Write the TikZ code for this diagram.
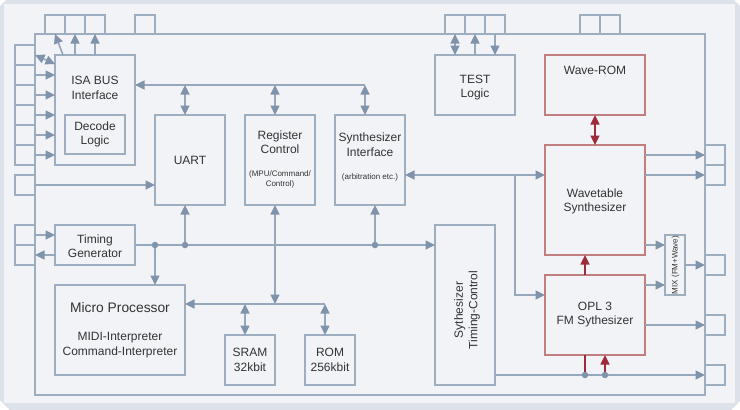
\documentclass[tikz,border=0pt]{standalone}
\usepackage{fontspec}
\setmainfont{Liberation Sans}
\usetikzlibrary{arrows.meta}
\definecolor{outerc}{HTML}{DDE2EA}
\definecolor{panelc}{HTML}{F1F3F7}
\definecolor{boxc}{HTML}{9DAEC1}
\definecolor{linec}{HTML}{96A8BB}
\definecolor{tipc}{HTML}{7F93AA}
\definecolor{redc}{HTML}{C07E7E}
\definecolor{redtip}{HTML}{9E2B3B}
\definecolor{txtc}{HTML}{333333}
\begin{document}
\begin{tikzpicture}[x=1pt,y=-1pt,
  box/.style={draw=boxc,line width=1.6pt,inner sep=0pt,outer sep=0pt,text=txtc,align=center,font=\fontsize{12}{14.5}\selectfont},
  redbox/.style={box,draw=redc},
  pin/.style={draw=boxc,line width=1.6pt,inner sep=0pt,outer sep=0pt,minimum width=20pt,minimum height=20pt},
  tpin/.style={pin,minimum height=19pt},
  lbl/.style={text=txtc,inner sep=0pt,align=center,font=\fontsize{12}{14.5}\selectfont},
  small/.style={lbl,font=\fontsize{8}{9.5}\selectfont},
  con/.style={draw=linec,line width=1.6pt},
  arr/.style={con,-{Triangle[length=9.5pt,width=9pt,color=tipc]}},
  dbl/.style={con,{Triangle[length=9.5pt,width=9pt,color=tipc]}-{Triangle[length=9.5pt,width=9pt,color=tipc]}},
  rline/.style={draw=redtip,line width=1.6pt},
  rarr/.style={rline,-{Triangle[length=9.5pt,width=9pt,color=redtip]}},
  rdbl/.style={rline,{Triangle[length=9.5pt,width=9pt,color=redtip]}-{Triangle[length=9.5pt,width=9pt,color=redtip]}},
  dot/.style={circle,fill=tipc,inner sep=0pt,minimum size=6.5pt}]
\useasboundingbox (0,0) rectangle (740,410);
% background panel
\fill[white] (0,0) rectangle (740,410);
\fill[outerc] (0,6) -- (6,0) -- (734,0) -- (740,6) -- (740,401) -- (731,410) -- (10,410) -- (0,400) -- cycle;
\fill[panelc] (4,4) rectangle (735,403);
% chip outline
\node[box,minimum width=670pt,minimum height=361pt] (chip) at (370,214.5) {};
% top pins
\node[tpin] (pT1) at (55,24.5) {};
\node[tpin] (pT2) at (75,24.5) {};
\node[tpin] (pT3) at (95,24.5) {};
\node[tpin] (pT4) at (145,24.5) {};
\node[tpin] (pT5) at (455,24.5) {};
\node[tpin] (pT6) at (475,24.5) {};
\node[tpin] (pT7) at (495,24.5) {};
\node[tpin] (pT8) at (590,24.5) {};
\node[tpin] (pT9) at (610,24.5) {};
% left pins
\foreach \i/\y in {1/55,2/75,3/95,4/115,5/135,6/155,7/185,8/235,9/255}
  \node[pin] (pL\i) at (25,\y) {};
% right pins
\foreach \i/\y in {1/155,2/175,3/265,4/325,5/375}
  \node[pin] (pR\i) at (715,\y) {};
% blocks
\node[box,minimum width=80pt,minimum height=110pt] (isa) at (95,110) {};
\node[lbl] (isaT) at (95,88) {ISA BUS\\Interface};
\node[box,minimum width=60pt,minimum height=39pt] (decode) at (95,134.5) {Decode\\Logic};
\node[box,minimum width=70pt,minimum height=90pt] (uart) at (190,160) {UART};
\node[box,minimum width=70pt,minimum height=90pt] (reg) at (280,160) {};
\node[lbl] (regT) at (280,142) {Register\\Control};
\node[small] (regS) at (280,179.5) {(MPU/Command/\\Control)};
\node[box,minimum width=70pt,minimum height=90pt] (synif) at (370,160) {};
\node[lbl] (synifT) at (370,144.5) {Synthesizer\\Interface};
\node[small] (synifS) at (370,177) {(arbitration etc.)};
\node[box,minimum width=80pt,minimum height=60pt] (test) at (475,85) {};
\node[lbl] (testT) at (475,87.5) {TEST\\Logic};
\node[redbox,minimum width=100pt,minimum height=60pt] (waverom) at (595,85) {};
\node[lbl] (waveromT) at (595,70) {Wave-ROM};
\node[redbox,minimum width=100pt,minimum height=110pt] (wavetable) at (595,200) {};
\node[lbl] (wavetableT) at (595,201.5) {Wavetable\\Synthesizer};
\node[redbox,minimum width=100pt,minimum height=80pt] (opl) at (595,315) {};
\node[lbl] (oplT) at (595,314.5) {OPL 3\\FM Sythesizer};
\node[box,minimum width=20pt,minimum height=60pt] (mix) at (675,265) {};
\node[lbl,rotate=90,font=\fontsize{8}{9}\selectfont] (mixT) at (675.5,265) {MIX (FM+Wave)};
\node[box,minimum width=80pt,minimum height=40pt] (timing) at (95,245) {};
\node[lbl] (timingT) at (95,246) {Timing\\Generator};
\node[box,minimum width=60pt,minimum height=160pt] (stc) at (465,305) {};
\node[lbl,rotate=90] (stcT) at (467,310) {Sythesizer\\Timing-Control};
\node[box,minimum width=130pt,minimum height=90pt] (mpu) at (120,330) {};
\node[lbl,font=\fontsize{13.8}{16}\selectfont] (mpuT) at (120,308) {Micro Processor};
\node[lbl] (mpuS) at (120,345) {MIDI-Interpreter\\Command-Interpreter};
\node[box,minimum width=50pt,minimum height=50pt] (sram) at (250,360) {SRAM\\32kbit};
\node[box,minimum width=50pt,minimum height=50pt] (rom) at (330,360) {ROM\\256kbit};
% ISA pins
\draw[dbl] (pL1.east) -- ([yshift=-9pt]isa.north west);
\foreach \i in {2,...,6} \draw[arr] (pL\i.east) -- (pL\i.east -| isa.west);
\draw[arr] ([xshift=8pt]isa.north west) -- (pT1.south);
\draw[arr] (isa.north -| pT2.south) -- (pT2.south);
\draw[arr] (isa.north -| pT3.south) -- (pT3.south);
% other left pins
\draw[arr] (pL7.east) -- (pL7.east -| uart.west);
\draw[arr] (pL8.east) -- (pL8.east -| timing.west);
\draw[arr] (timing.west |- pL9.east) -- (pL9.east);
% internal bus from ISA
\coordinate (hb1) at (185,85);
\coordinate (hb2) at (275,85);
\coordinate (hb3) at (365,85);
\draw[arr] (hb3) -- (hb3 -| isa.east);
\draw[dbl] (hb1) -- (hb1 |- uart.north);
\draw[dbl] (hb2) -- (hb2 |- reg.north);
\draw[dbl] (hb3) -- (hb3 |- synif.north);
% timing bus
\coordinate (b1) at (155,245);
\coordinate (b2) at (185,245);
\coordinate (b3) at (375,245);
\draw[arr] (timing.east) -- (timing.east -| stc.west);
\draw[arr] (b1) -- (b1 |- mpu.north);
\draw[arr] (b2) -- (b2 |- uart.south);
\draw[arr] (b3) -- (b3 |- synif.south);
\node[dot] (d0) at (b1) {};
\node[dot] (d00) at (b2) {};
\node[dot] (d000) at (b3) {};
% processor bus
\coordinate (m1) at (275,304);
\coordinate (m2) at (325,304);
\coordinate (m3) at (245,304);
\draw[dbl] (m1 |- reg.south) -- (m1);
\draw[arr] (m2) -- (m2 -| mpu.east);
\draw[dbl] (m3) -- (m3 |- sram.north);
\draw[dbl] (m2) -- (m2 |- rom.north);
% synthesizer interface
\coordinate (s1) at (515,175);
\coordinate (s2) at (515,295);
\draw[dbl] (s1 -| synif.east) -- (s1 -| wavetable.west);
\draw[arr] (s1) -- (s2) -- (s2 -| opl.west);
% test pins
\draw[dbl] (pT5.south) -- (pT5.south |- test.north);
\draw[arr] (pT6.south |- test.north) -- (pT6.south);
\draw[arr] (pT7.south) -- (pT7.south |- test.north);
% synth section
\draw[rdbl] (waverom.south) -- (wavetable.north);
\draw[arr] (wavetable.east |- pR1.west) -- (pR1.west);
\draw[arr] (wavetable.east |- pR2.west) -- (pR2.west);
\coordinate (w3) at (645,245);
\draw[arr] (w3) -- (w3 -| mix.west);
\draw[arr] (mix.east) -- (pR3.west);
\coordinate (o1) at (645,285);
\draw[arr] (o1) -- (o1 -| mix.west);
\draw[arr] (opl.east |- pR4.west) -- (pR4.west);
\coordinate (o2) at (585,275);
\draw[rarr] (o2) -- (o2 |- wavetable.south);
% bottom line
\coordinate (e1) at (585,375);
\coordinate (e2) at (605,375);
\draw[arr] (stc.east |- pR5.west) -- (pR5.west);
\draw[rline] (e1) -- (e1 |- opl.south);
\draw[rarr] (e2) -- (e2 |- opl.south);
\node[dot] (d1) at (e1) {};
\node[dot] (d2) at (e2) {};
\end{tikzpicture}
\end{document}
